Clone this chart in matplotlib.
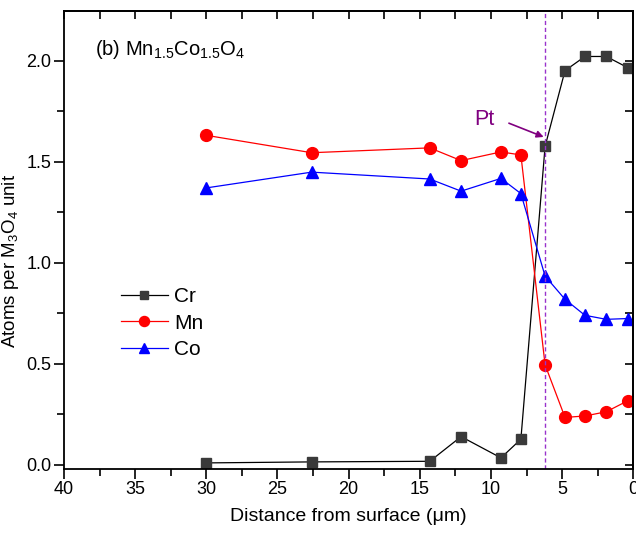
import numpy as np
import matplotlib
matplotlib.use("Agg")
import matplotlib.pyplot as plt
from matplotlib.ticker import MultipleLocator, FormatStrFormatter

plt.rcParams['font.family'] = ['Liberation Sans', 'DejaVu Sans']
plt.rcParams['mathtext.fontset'] = 'custom'
plt.rcParams['mathtext.rm'] = 'Liberation Sans'
plt.rcParams['mathtext.it'] = 'Liberation Sans:italic'

# --- Data ---
distance = [30.0, 22.6, 14.3, 12.1, 9.3, 7.9, 6.2, 4.8, 3.4, 1.9, 0.4]
cr = [0.01, 0.015, 0.018, 0.14, 0.035, 0.127, 1.575, 1.95, 2.02, 2.02, 1.965]
mn = [1.63, 1.544, 1.568, 1.505, 1.548, 1.533, 0.495, 0.235, 0.242, 0.263, 0.317]
co = [1.37, 1.448, 1.414, 1.354, 1.417, 1.342, 0.934, 0.819, 0.740, 0.720, 0.724]
pt_position = 6.2

fig = plt.figure(figsize=(6.36, 5.38), dpi=100)
ax = fig.add_axes([0.1006, 0.1283, 0.8952, 0.8513])

ax.plot(distance, cr, color='black', lw=0.9, marker='s', ms=7,
        mfc='#3a3a3a', mec='#3a3a3a', label='Cr')
ax.plot(distance, mn, color='red', lw=0.9, marker='o', ms=8.5,
        mfc='red', mec='red', label='Mn')
ax.plot(distance, co, color='blue', lw=0.9, marker='^', ms=9,
        mfc='blue', mec='blue', label='Co')

ax.axvline(pt_position, color='#9933cc', lw=1.0, ls=(0, (3, 2)))
ax.annotate('', xy=(6.3, 1.622), xytext=(8.74, 1.69),
            arrowprops=dict(arrowstyle='-|>', color='purple', lw=1.2,
                            mutation_scale=10, shrinkA=0, shrinkB=0))
ax.text(10.45, 1.71, 'Pt', color='purple', fontsize=15.5, ha='center', va='center')

ax.text(0.054, 0.915, '(b) Mn$_{1.5}$Co$_{1.5}$O$_4$', transform=ax.transAxes,
        fontsize=14.5, ha='left', va='center')

ax.set_xlim(40, 0)
ax.set_ylim(-0.02, 2.245)
ax.xaxis.set_major_locator(MultipleLocator(5))
ax.xaxis.set_minor_locator(MultipleLocator(2.5))
ax.yaxis.set_major_locator(MultipleLocator(0.5))
ax.yaxis.set_minor_locator(MultipleLocator(0.25))
ax.yaxis.set_major_formatter(FormatStrFormatter('%.1f'))

ax.tick_params(which='both', direction='out', top=False, right=False,
               labelsize=13, width=1.2, pad=2)
ax.tick_params(which='major', length=7)
ax.tick_params(which='minor', length=5)

# mirrored ticks pointing inward on top and right
axt = ax.secondary_xaxis('top')
axt.xaxis.set_major_locator(MultipleLocator(5))
axt.xaxis.set_minor_locator(MultipleLocator(2.5))
axt.tick_params(which='both', direction='in', labeltop=False, width=1.2, length=6)
axr = ax.secondary_yaxis('right')
axr.yaxis.set_major_locator(MultipleLocator(0.5))
axr.yaxis.set_minor_locator(MultipleLocator(0.25))
axr.tick_params(which='both', direction='in', labelright=False, width=1.2, length=6)
for sp in ax.spines.values():
    sp.set_linewidth(1.3)
axt.spines['top'].set_linewidth(1.3)
axr.spines['right'].set_linewidth(1.3)

ax.set_xlabel('Distance from surface (\u03bcm)', fontsize=14, labelpad=7)
ax.set_ylabel('Atoms per M$_3$O$_4$ unit', fontsize=13.5)
ax.yaxis.set_label_coords(-0.076, 0.454)

ax.legend(loc='upper left', bbox_to_anchor=(0.085, 0.415), frameon=False,
          fontsize=15, handlelength=2.25, handletextpad=0.3, labelspacing=0.35,
          markerscale=0.85, borderaxespad=0)

fig.savefig('out.png', dpi=100)
